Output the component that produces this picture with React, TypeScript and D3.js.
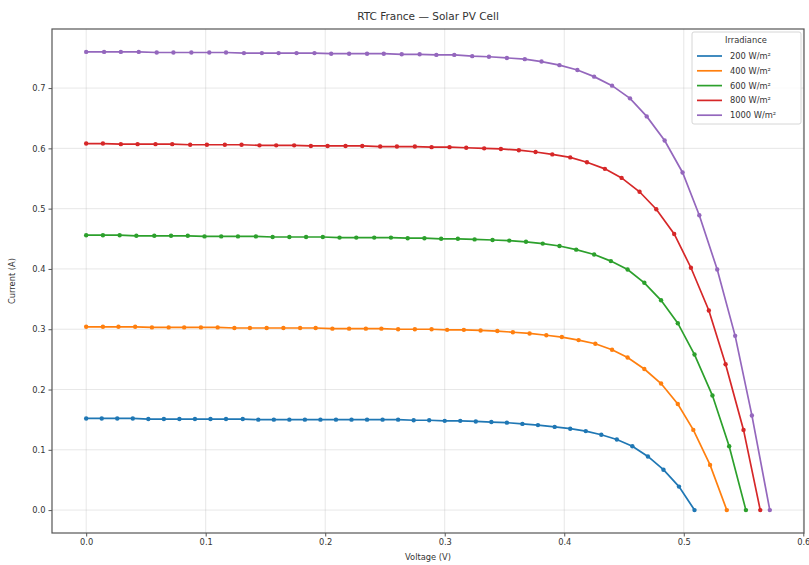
import React, { useEffect, useRef } from "react";
import * as d3 from "d3";

// Irradiance levels (legend labels)
const irradiance = ["200 W/m²", "400 W/m²", "600 W/m²", "800 W/m²", "1000 W/m²"];
const colors = ["#1f77b4", "#ff7f0e", "#2ca02c", "#d62728", "#9467bd"];

// Voltages (V), 40 samples per curve
const v200 = [0.000, 0.013, 0.026, 0.039, 0.052, 0.065, 0.078, 0.091, 0.104, 0.117, 0.131, 0.144, 0.157, 0.170, 0.183, 0.196, 0.209, 0.222, 0.235, 0.248, 0.261, 0.274, 0.287, 0.300, 0.313, 0.326, 0.339, 0.352, 0.365, 0.378, 0.392, 0.405, 0.418, 0.431, 0.444, 0.457, 0.470, 0.483, 0.496, 0.509];
const v400 = [0.000, 0.014, 0.027, 0.041, 0.055, 0.069, 0.082, 0.096, 0.110, 0.124, 0.137, 0.151, 0.165, 0.179, 0.192, 0.206, 0.220, 0.234, 0.247, 0.261, 0.275, 0.289, 0.302, 0.316, 0.330, 0.344, 0.357, 0.371, 0.385, 0.398, 0.412, 0.426, 0.440, 0.453, 0.467, 0.481, 0.495, 0.508, 0.522, 0.536];
const v600 = [0.000, 0.014, 0.028, 0.042, 0.057, 0.071, 0.085, 0.099, 0.113, 0.127, 0.142, 0.156, 0.170, 0.184, 0.198, 0.212, 0.226, 0.241, 0.255, 0.269, 0.283, 0.297, 0.311, 0.325, 0.340, 0.354, 0.368, 0.382, 0.396, 0.410, 0.425, 0.439, 0.453, 0.467, 0.481, 0.495, 0.509, 0.524, 0.538, 0.552];
const v800 = [0.000, 0.014, 0.029, 0.043, 0.058, 0.072, 0.087, 0.101, 0.116, 0.130, 0.145, 0.159, 0.174, 0.188, 0.202, 0.217, 0.231, 0.246, 0.260, 0.275, 0.289, 0.304, 0.318, 0.333, 0.347, 0.362, 0.376, 0.390, 0.405, 0.419, 0.434, 0.448, 0.463, 0.477, 0.492, 0.506, 0.521, 0.535, 0.550, 0.564];
const v1000 = [0.000, 0.015, 0.029, 0.044, 0.059, 0.073, 0.088, 0.103, 0.117, 0.132, 0.147, 0.161, 0.176, 0.191, 0.205, 0.220, 0.235, 0.249, 0.264, 0.279, 0.293, 0.308, 0.323, 0.337, 0.352, 0.367, 0.381, 0.396, 0.411, 0.425, 0.440, 0.455, 0.469, 0.484, 0.499, 0.513, 0.528, 0.543, 0.557, 0.572];

// Currents (A)
const i200 = [0.152, 0.152, 0.152, 0.152, 0.151, 0.151, 0.151, 0.151, 0.151, 0.151, 0.151, 0.150, 0.150, 0.150, 0.150, 0.150, 0.150, 0.150, 0.150, 0.150, 0.150, 0.149, 0.149, 0.148, 0.148, 0.147, 0.146, 0.145, 0.143, 0.141, 0.138, 0.135, 0.131, 0.125, 0.117, 0.106, 0.089, 0.067, 0.039, 0.000];
const i400 = [0.304, 0.304, 0.304, 0.304, 0.303, 0.303, 0.303, 0.303, 0.303, 0.302, 0.302, 0.302, 0.302, 0.302, 0.302, 0.301, 0.301, 0.301, 0.301, 0.300, 0.300, 0.300, 0.299, 0.299, 0.298, 0.297, 0.295, 0.293, 0.290, 0.287, 0.282, 0.276, 0.266, 0.253, 0.234, 0.210, 0.176, 0.133, 0.075, 0.000];
const i600 = [0.456, 0.456, 0.456, 0.455, 0.455, 0.455, 0.455, 0.454, 0.454, 0.454, 0.454, 0.453, 0.453, 0.453, 0.453, 0.452, 0.452, 0.452, 0.452, 0.451, 0.451, 0.450, 0.450, 0.449, 0.448, 0.447, 0.445, 0.442, 0.438, 0.432, 0.424, 0.413, 0.399, 0.377, 0.348, 0.310, 0.258, 0.190, 0.106, 0.000];
const i800 = [0.608, 0.608, 0.607, 0.607, 0.607, 0.607, 0.606, 0.606, 0.606, 0.606, 0.605, 0.605, 0.605, 0.604, 0.604, 0.604, 0.604, 0.603, 0.603, 0.603, 0.602, 0.602, 0.601, 0.600, 0.599, 0.597, 0.594, 0.590, 0.585, 0.577, 0.566, 0.551, 0.528, 0.499, 0.458, 0.402, 0.331, 0.242, 0.133, 0.000];
const i1000 = [0.760, 0.760, 0.760, 0.760, 0.759, 0.759, 0.759, 0.759, 0.759, 0.758, 0.758, 0.758, 0.758, 0.758, 0.757, 0.757, 0.757, 0.757, 0.756, 0.756, 0.755, 0.755, 0.753, 0.752, 0.750, 0.748, 0.744, 0.738, 0.730, 0.719, 0.704, 0.683, 0.653, 0.613, 0.560, 0.489, 0.399, 0.289, 0.157, 0.000];

const xTicks = [0.0, 0.1, 0.2, 0.3, 0.4, 0.5, 0.6];
const yTicks = [0.0, 0.1, 0.2, 0.3, 0.4, 0.5, 0.6, 0.7];

const voltages = [v200, v400, v600, v800, v1000];
const currents = [i200, i400, i600, i800, i1000];

const App = () => {
  const ref = useRef<SVGSVGElement>(null);

  useEffect(() => {
    document.body.style.margin = "0";
    const width = 809;
    const height = 565;
    const margin = { top: 29, right: 5, bottom: 32, left: 52 };
    const font = "DejaVu Sans, sans-serif";

    const svg = d3.select(ref.current);
    svg.selectAll("*").remove();
    svg.attr("width", width).attr("height", height);

    svg.append("rect").attr("width", width).attr("height", height).attr("fill", "#fff");

    const x = d3
      .scaleLinear()
      .domain([-0.0286, 0.6006])
      .range([margin.left, width - margin.right]);
    const y = d3
      .scaleLinear()
      .domain([-0.038, 0.798])
      .range([height - margin.bottom, margin.top]);

    const [x0, x1] = x.range();
    const [y0, y1] = y.range();

    // Grid
    const grid = svg.append("g");
    grid
      .selectAll(".gx")
      .data(xTicks)
      .enter()
      .append("line")
      .attr("x1", (d) => x(d))
      .attr("x2", (d) => x(d))
      .attr("y1", y1)
      .attr("y2", y0)
      .attr("stroke", "#b0b0b0")
      .attr("stroke-opacity", 0.35)
      .attr("stroke-width", 0.9);
    grid
      .selectAll(".gy")
      .data(yTicks)
      .enter()
      .append("line")
      .attr("x1", x0)
      .attr("x2", x1)
      .attr("y1", (d) => y(d))
      .attr("y2", (d) => y(d))
      .attr("stroke", "#b0b0b0")
      .attr("stroke-opacity", 0.35)
      .attr("stroke-width", 0.9);

    // Curves
    const line = d3
      .line<[number, number]>()
      .x((d) => x(d[0]))
      .y((d) => y(d[1]));

    voltages.forEach((vs, k) => {
      const pts: [number, number][] = vs.map((v, j) => [v, currents[k][j]]);
      svg
        .append("path")
        .datum(pts)
        .attr("d", line)
        .attr("fill", "none")
        .attr("stroke", colors[k])
        .attr("stroke-width", 1.7);
      svg
        .append("g")
        .selectAll("circle")
        .data(pts)
        .enter()
        .append("circle")
        .attr("cx", (d) => x(d[0]))
        .attr("cy", (d) => y(d[1]))
        .attr("r", 2.2)
        .attr("fill", colors[k]);
    });

    // Axes
    const xAxis = svg
      .append("g")
      .attr("transform", `translate(0,${y0})`)
      .call(d3.axisBottom(x).tickValues(xTicks).tickFormat(d3.format(".1f")).tickSizeOuter(0).tickSize(3.5).tickPadding(3));
    const yAxis = svg
      .append("g")
      .attr("transform", `translate(${x0},0)`)
      .call(d3.axisLeft(y).tickValues(yTicks).tickFormat(d3.format(".1f")).tickSizeOuter(0).tickSize(3.5).tickPadding(3));
    [xAxis, yAxis].forEach((a) => {
      a.select(".domain").remove();
      a.selectAll("line").attr("stroke", "#444").attr("stroke-width", 0.9);
      a.selectAll("text").attr("font-family", font).attr("font-size", 8.3).attr("fill", "#333");
    });

    // Frame
    svg
      .append("rect")
      .attr("x", x0)
      .attr("y", y1)
      .attr("width", x1 - x0)
      .attr("height", y0 - y1)
      .attr("fill", "none")
      .attr("stroke", "#555")
      .attr("stroke-width", 1.2);

    // Labels
    svg
      .append("text")
      .attr("x", (x0 + x1) / 2)
      .attr("y", 20)
      .attr("text-anchor", "middle")
      .attr("font-family", font)
      .attr("font-size", 10.5)
      .attr("fill", "#333")
      .text("RTC France — Solar PV Cell");
    svg
      .append("text")
      .attr("x", (x0 + x1) / 2)
      .attr("y", 560)
      .attr("text-anchor", "middle")
      .attr("font-family", font)
      .attr("font-size", 8.3)
      .attr("fill", "#333")
      .text("Voltage (V)");
    svg
      .append("text")
      .attr("transform", `translate(15,${(y0 + y1) / 2}) rotate(-90)`)
      .attr("text-anchor", "middle")
      .attr("font-family", font)
      .attr("font-size", 8.3)
      .attr("fill", "#333")
      .text("Current (A)");

    // Legend
    const lg = svg.append("g").attr("transform", "translate(692,32)");
    lg.append("rect")
      .attr("width", 109)
      .attr("height", 92)
      .attr("rx", 2)
      .attr("fill", "#fff")
      .attr("fill-opacity", 0.8)
      .attr("stroke", "#ccc")
      .attr("stroke-width", 0.8);
    lg.append("text")
      .attr("x", 54)
      .attr("y", 11)
      .attr("text-anchor", "middle")
      .attr("font-family", font)
      .attr("font-size", 8.3)
      .attr("fill", "#333")
      .text("Irradiance");
    irradiance.forEach((label, k) => {
      const row = lg.append("g").attr("transform", `translate(0,${24 + k * 14.8})`);
      row
        .append("line")
        .attr("x1", 5)
        .attr("x2", 30)
        .attr("stroke", colors[k])
        .attr("stroke-width", 1.7);
      row
        .append("text")
        .attr("x", 38)
        .attr("y", 3)
        .attr("font-family", font)
        .attr("font-size", 8.3)
        .attr("fill", "#333")
        .text(label);
    });
  }, []);

  return <svg ref={ref} style={{ display: "block" }}></svg>;
};

export default App;
